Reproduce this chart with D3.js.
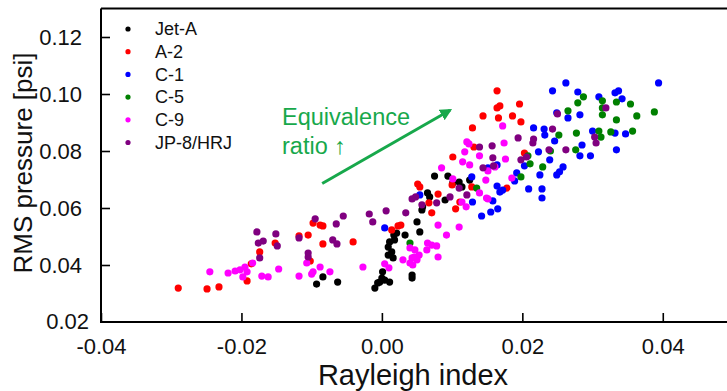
<!DOCTYPE html>
<html>
<head>
<meta charset="utf-8">
<script src="https://cdn.jsdelivr.net/npm/d3@7"></script>
<style>
  body { margin: 0; background: #fff; }
  svg text { font-family: "Liberation Sans", Arial, sans-serif; }
</style>
</head>
<body>
<div id="chart"></div>
<script>
// series names and colours
var seriesNames = ["Jet-A", "A-2", "C-1", "C-5", "C-9", "JP-8/HRJ"];
var seriesColors = ["#000000", "#ff0000", "#0000ff", "#008000", "#ff00ff", "#800080"];

var xTicks = [-0.04, -0.02, 0.00, 0.02, 0.04];
var yTicks = [0.02, 0.04, 0.06, 0.08, 0.10, 0.12];

// values: [Rayleigh index, RMS pressure]
var jetA = [[-0.0093,0.0333],[-0.0084,0.0358],[-0.0063,0.0340],[-0.0010,0.0319],[-0.0006,0.0337],
  [-0.0003,0.0340],[0.0000,0.0354],[0.0004,0.0347],[0.0011,0.0340],[0.0001,0.0376],[0.0043,0.0365],
  [0.0043,0.0354],[0.0009,0.0435],[0.0016,0.0425],[0.0014,0.0446],[0.0009,0.0463],[0.0011,0.0481],
  [0.0017,0.0505],[0.0018,0.0488],[0.0033,0.0505],[0.0021,0.0512],[0.0050,0.0551],[0.0054,0.0516],
  [0.0057,0.0593],[0.0058,0.0604],[0.0065,0.0653],[0.0068,0.0639],[0.0075,0.0712],[0.0094,0.0712],
  [0.0101,0.0688],[0.0110,0.0691],[0.0114,0.0674],[0.0125,0.0698],[0.0090,0.0628]];

var a2 = [[-0.0290,0.0319],[-0.0249,0.0316],[-0.0232,0.0323],[-0.0192,0.0344],[-0.0186,0.0404],
  [-0.0174,0.0446],[-0.0152,0.0477],[-0.0118,0.0502],[-0.0105,0.0505],[-0.0098,0.0547],[-0.0088,0.0540],
  [-0.0084,0.0537],[-0.0084,0.0474],[-0.0041,0.0481],[-0.0102,0.0414],[0.0014,0.0523],[0.0023,0.0537],
  [0.0027,0.0540],[0.0051,0.0684],[0.0054,0.0674],[0.0080,0.0649],[0.0067,0.0618],[0.0071,0.0583],
  [0.0100,0.0681],[0.0105,0.0597],[0.0111,0.0621],[0.0101,0.0779],[0.0131,0.0814],[0.0129,0.0881],
  [0.0144,0.0923],[0.0164,0.1011],[0.0164,0.0951],[0.0168,0.0958],[0.0166,0.0916],[0.0186,0.0923],
  [0.0196,0.0965],[0.0198,0.0902],[0.0203,0.0793],[0.0178,0.0670],[0.0128,0.0674]];

var c1 = [[0.0004,0.0530],[0.0054,0.0646],[0.0128,0.0709],[0.0129,0.0621],[0.0142,0.0572],
  [0.0155,0.0586],[0.0165,0.0597],[0.0158,0.0625],[0.0164,0.0677],[0.0168,0.0656],[0.0172,0.0663],
  [0.0189,0.0695],[0.0151,0.0741],[0.0164,0.0751],[0.0192,0.0723],[0.0203,0.0748],[0.0209,0.0667],
  [0.0228,0.0667],[0.0228,0.0635],[0.0225,0.0716],[0.0249,0.0716],[0.0253,0.0727],[0.0258,0.0744],
  [0.0223,0.0797],[0.0239,0.0769],[0.0216,0.0881],[0.0231,0.0877],[0.0232,0.0856],[0.0246,0.0835],
  [0.0243,0.1011],[0.0262,0.1039],[0.0279,0.1007],[0.0249,0.0934],[0.0265,0.0916],[0.0282,0.0927],
  [0.0300,0.0870],[0.0285,0.0821],[0.0282,0.0783],[0.0297,0.0783],[0.0309,0.0990],[0.0332,0.1004],
  [0.0337,0.1011],[0.0342,0.0983],[0.0332,0.0863],[0.0347,0.0860],[0.0334,0.0804],[0.0394,0.1039]];

var c5 = [[0.0040,0.0477],[0.0135,0.0670],[0.0198,0.0709],[0.0211,0.0755],[0.0229,0.0744],
  [0.0208,0.0783],[0.0240,0.0800],[0.0252,0.0856],[0.0276,0.0804],[0.0277,0.0863],[0.0265,0.0941],
  [0.0279,0.0969],[0.0287,0.0990],[0.0309,0.0870],[0.0312,0.0849],[0.0314,0.0976],[0.0314,0.0951],
  [0.0314,0.0927],[0.0326,0.0867],[0.0334,0.0972],[0.0334,0.0909],[0.0354,0.0965],[0.0357,0.0870],
  [0.0363,0.0923],[0.0388,0.0937]];

var c9 = [[-0.0245,0.0376],[-0.0219,0.0372],[-0.0209,0.0379],[-0.0202,0.0383],[-0.0195,0.0393],
  [-0.0192,0.0376],[-0.0198,0.0358],[-0.0184,0.0407],[-0.0171,0.0361],[-0.0162,0.0358],[-0.0147,0.0386],
  [-0.0118,0.0361],[-0.0107,0.0407],[-0.0100,0.0368],[-0.0098,0.0376],[-0.0088,0.0393],[-0.0074,0.0376],
  [-0.0027,0.0393],[0.0004,0.0404],[0.0010,0.0390],[0.0030,0.0418],[0.0040,0.0407],[0.0043,0.0425],
  [0.0046,0.0428],[0.0050,0.0418],[0.0044,0.0400],[0.0053,0.0435],[0.0047,0.0453],[0.0040,0.0460],
  [0.0065,0.0477],[0.0071,0.0470],[0.0078,0.0467],[0.0064,0.0453],[0.0080,0.0428],[0.0092,0.0505],
  [0.0080,0.0540],[0.0110,0.0533],[0.0114,0.0621],[0.0120,0.0604],[0.0139,0.0653],[0.0148,0.0698],
  [0.0151,0.0730],[0.0161,0.0744],[0.0176,0.0772],[0.0174,0.0828],[0.0172,0.0888],[0.0121,0.0832],
  [0.0124,0.0825],[0.0118,0.0797],[0.0139,0.0783],[0.0115,0.0762],[0.0085,0.0741],[0.0101,0.0702],
  [0.0149,0.0635],[0.0125,0.0751],[0.0185,0.0705],[0.0151,0.0632]];

var jp8 = [[-0.0178,0.0516],[-0.0176,0.0477],[-0.0169,0.0484],[-0.0174,0.0425],[-0.0151,0.0509],
  [-0.0149,0.0467],[-0.0118,0.0495],[-0.0105,0.0442],[-0.0105,0.0428],[-0.0095,0.0562],[-0.0065,0.0544],
  [-0.0055,0.0572],[-0.0070,0.0488],[-0.0064,0.0474],[-0.0018,0.0579],[-0.0013,0.0551],[0.0006,0.0590],
  [0.0034,0.0583],[0.0043,0.0632],[0.0048,0.0639],[0.0057,0.0611],[0.0078,0.0618],[0.0097,0.0639],
  [0.0110,0.0670],[0.0121,0.0646],[0.0139,0.0814],[0.0157,0.0818],[0.0158,0.0776],[0.0144,0.0741],
  [0.0159,0.0748],[0.0194,0.0846],[0.0198,0.0769],[0.0206,0.0779],[0.0215,0.0828],[0.0216,0.0842],
  [0.0243,0.0877],[0.0238,0.0804],[0.0262,0.0804],[0.0250,0.0930],[0.0303,0.0849],[0.0305,0.0828],
  [0.0319,0.0951]];

var allSeries = [jetA, a2, c1, c5, c9, jp8];

var svgWidth = 727;
var svgHeight = 391;

var svg = d3.select("#chart")
  .append("svg")
  .attr("width", svgWidth)
  .attr("height", svgHeight);

// scales (x axis runs past the right edge of the picture)
var xScale = d3.scaleLinear().domain([-0.04, 0.05]).range([101, 733]);
var yScale = d3.scaleLinear().domain([0.02, 0.13]).range([322, 8.5]);

// plain hyphen for negatives, like the original
var fmt = d => d.toFixed(2);

// axes with inward ticks
var bottomAxis = d3.axisBottom(xScale).tickValues(xTicks).tickSize(-9).tickPadding(16)
  .tickFormat(fmt);
var leftAxis = d3.axisLeft(yScale).tickValues(yTicks.slice(1)).tickSize(-9).tickPadding(19)
  .tickFormat(fmt);

var xg = svg.append("g")
  .attr("transform", "translate(0, 322)")
  .call(bottomAxis);
var yg = svg.append("g")
  .attr("transform", "translate(101, 0)")
  .call(leftAxis);

[xg, yg].forEach(function(g) {
  g.select(".domain").remove();
  g.selectAll(".tick line").attr("stroke", "#000").attr("stroke-width", 1.6);
  g.selectAll(".tick text").attr("font-size", 22).attr("fill", "#111");
});

// 0.02 label sits at the corner
yg.append("text")
  .attr("x", -12).attr("y", yScale(0.02)).attr("dy", "0.32em")
  .attr("text-anchor", "end").attr("font-size", 22).attr("fill", "#111")
  .text(fmt(yTicks[0]));

// frame: left, bottom, top
svg.append("path")
  .attr("d", "M101,8.5 H733 M101,8.5 V322 H733")
  .attr("fill", "none")
  .attr("stroke", "#000")
  .attr("stroke-width", 2);

// points
allSeries.forEach(function(data, i) {
  svg.append("g").selectAll("circle")
    .data(data)
    .enter()
    .append("circle")
    .attr("cx", d => xScale(d[0]))
    .attr("cy", d => yScale(d[1]))
    .attr("r", 3.6)
    .attr("fill", seriesColors[i]);
});

// legend
var legend = svg.append("g");
seriesNames.forEach(function(name, i) {
  var y = 29 + i * 22.7;
  legend.append("circle")
    .attr("cx", 128).attr("cy", y).attr("r", 2.6)
    .attr("fill", seriesColors[i]);
  legend.append("text")
    .attr("x", 155).attr("y", y).attr("dy", "0.35em")
    .attr("font-size", 18).attr("fill", "#111")
    .text(name);
});

// annotation arrow
var green = "#17a84b";
svg.append("defs").append("marker")
  .attr("id", "head")
  .attr("viewBox", "0 0 10 10")
  .attr("refX", 8).attr("refY", 5)
  .attr("markerWidth", 4).attr("markerHeight", 4)
  .attr("orient", "auto")
  .append("path")
  .attr("d", "M0,0 L10,5 L0,10 Z")
  .attr("fill", green);

svg.append("line")
  .attr("x1", xScale(-0.0085)).attr("y1", yScale(0.0686))
  .attr("x2", xScale(0.0097)).attr("y2", yScale(0.0943))
  .attr("stroke", green)
  .attr("stroke-width", 3)
  .attr("marker-end", "url(#head)");

svg.append("text")
  .attr("x", 282).attr("y", 125)
  .attr("font-size", 23.5).attr("fill", green)
  .text("Equivalence");
svg.append("text")
  .attr("x", 282).attr("y", 154)
  .attr("font-size", 23.5).attr("fill", green)
  .text("ratio \u2191");

// axis titles
svg.append("text")
  .attr("x", 413).attr("y", 385)
  .attr("text-anchor", "middle")
  .attr("font-size", 29).attr("fill", "#111")
  .text("Rayleigh index");

svg.append("text")
  .attr("transform", "translate(32, 163) rotate(-90)")
  .attr("text-anchor", "middle")
  .attr("font-size", 26).attr("fill", "#111")
  .text("RMS pressure [psi]");
</script>
</body>
</html>
